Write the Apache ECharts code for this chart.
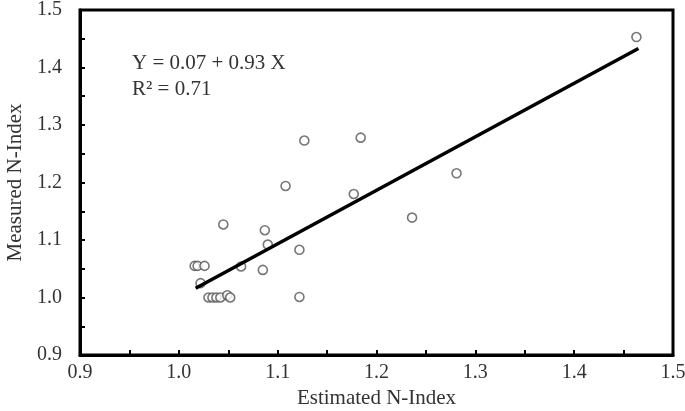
<!DOCTYPE html>
<html>
<head>
<meta charset="utf-8">
<script src="https://cdn.jsdelivr.net/npm/echarts@6/dist/echarts.min.js"></script>
<style>
  html, body { margin: 0; padding: 0; background: #fff; }
  #chart { width: 685px; height: 411px; }
</style>
</head>
<body>
<div id="chart"></div>
<script>
  // estimated vs measured N-Index
  const estimated = [1.016, 1.019, 1.026, 1.022, 1.030, 1.034, 1.038, 1.042, 1.049, 1.052,
                     1.063, 1.085, 1.122, 1.045, 1.087, 1.090, 1.122, 1.108, 1.127,
                     1.177, 1.184, 1.236, 1.281, 1.463];
  const measured  = [1.055, 1.055, 1.055, 1.025, 1.000, 1.000, 1.000, 1.000, 1.004, 1.000,
                     1.054, 1.048, 1.001, 1.127, 1.117, 1.092, 1.083, 1.194, 1.273,
                     1.180, 1.278, 1.139, 1.216, 1.453];
  // fitted line end points
  const fitX = [1.017, 1.465];
  const fitY = [1.016, 1.433];
  const eqLines = ['Y = 0.07 + 0.93 X', 'R² = 0.71'];

  const font = '"Liberation Serif", "Times New Roman", serif';
  const chart = echarts.init(document.getElementById('chart'));

  const points = estimated.map((x, i) => [x, measured[i]]);
  const fit = fitX.map((x, i) => [x, fitY[i]]);

  const option = {
    animation: false,
    backgroundColor: '#fff',
    grid: {
      left: 80, right: 12, top: 10, bottom: 56,
      outerBoundsMode: 'none', containLabel: false,
      show: true, borderColor: '#000', borderWidth: 3
    },
    title: {
      text: eqLines.join('\n'),
      left: 127, top: 45,
      textStyle: { fontFamily: font, fontSize: 21, fontWeight: 'normal', color: '#333', lineHeight: 26 }
    },
    xAxis: {
      type: 'value', min: 0.9, max: 1.5, interval: 0.1,
      name: 'Estimated N-Index', nameLocation: 'middle', nameGap: 33,
      nameTextStyle: { fontFamily: font, fontSize: 21, color: '#333' },
      axisLine: { show: true, lineStyle: { color: '#000', width: 3 } },
      axisTick: { show: true, inside: true, length: 5, lineStyle: { color: '#000', width: 2 } },
      minorTick: { show: true, splitNumber: 2, length: 5, lineStyle: { color: '#000', width: 2 } },
      splitLine: { show: false },
      axisLabel: { fontFamily: font, fontSize: 20, color: '#333', margin: 8,
        formatter: v => v.toFixed(1) }
    },
    yAxis: {
      type: 'value', min: 0.9, max: 1.5, interval: 0.1,
      name: 'Measured N-Index', nameLocation: 'middle', nameGap: 52,
      nameTextStyle: { fontFamily: font, fontSize: 21, color: '#333' },
      axisLine: { show: true, lineStyle: { color: '#000', width: 3 } },
      axisTick: { show: true, inside: true, length: 5, lineStyle: { color: '#000', width: 2 } },
      minorTick: { show: true, splitNumber: 2, length: 5, lineStyle: { color: '#000', width: 2 } },
      splitLine: { show: false },
      axisLabel: { fontFamily: font, fontSize: 20, color: '#333', margin: 18,
        formatter: v => v.toFixed(1) }
    },
    series: [
      {
        type: 'scatter',
        data: points,
        symbol: 'circle',
        symbolSize: 9,
        itemStyle: { color: '#fff', borderColor: '#555', borderWidth: 1.6 }
      },
      {
        type: 'line',
        data: fit,
        symbol: 'none',
        lineStyle: { color: '#000', width: 3.5 }
      }
    ]
  };
  chart.setOption(option);
</script>
</body>
</html>
